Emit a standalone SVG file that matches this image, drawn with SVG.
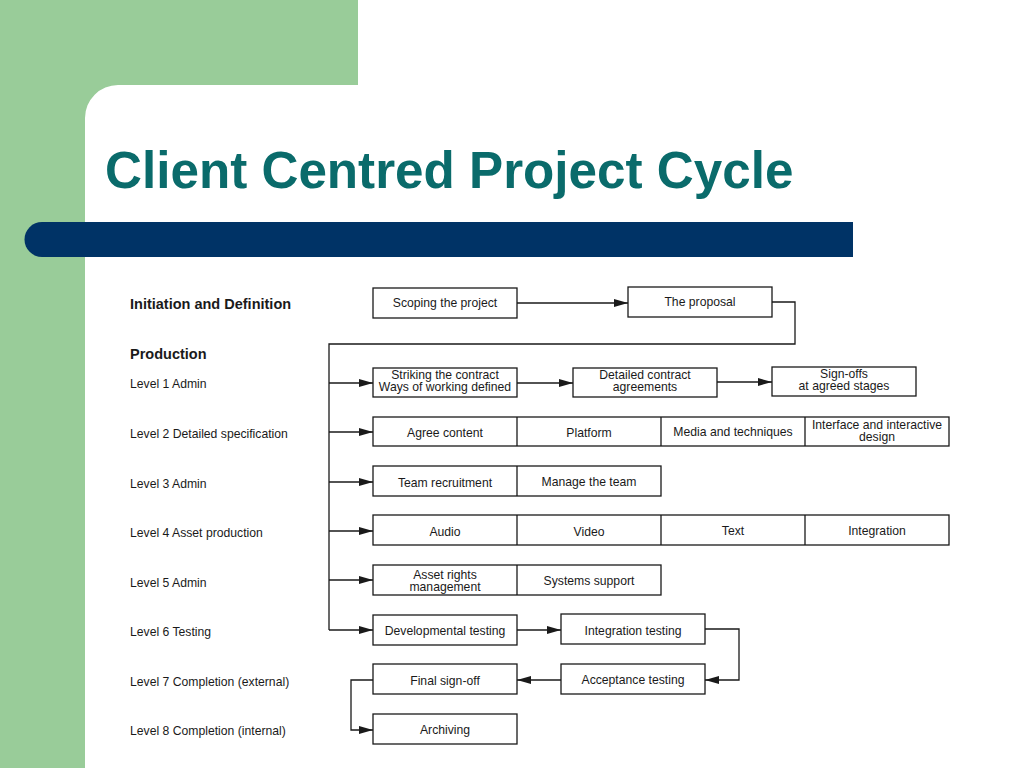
<svg xmlns="http://www.w3.org/2000/svg" width="1024" height="768" viewBox="0 0 1024 768">
<style>
.box{fill:#fff;stroke:#1a1a1a;stroke-width:1.3}
.ln{fill:none;stroke:#1a1a1a;stroke-width:1.3}
.t{font-family:"Liberation Sans",Arial,sans-serif;font-size:12.2px;fill:#1a1a1a;text-anchor:middle}
.lb{font-family:"Liberation Sans",Arial,sans-serif;font-size:12.2px;fill:#1a1a1a}
.hb{font-family:"Liberation Sans",Arial,sans-serif;font-size:14.5px;font-weight:bold;fill:#1a1a1a}
</style>
<defs>
<marker id="ah" viewBox="0 0 14 8" refX="14" refY="4" markerWidth="14" markerHeight="8" markerUnits="userSpaceOnUse" orient="auto">
<path d="M0,0 L14,4 L0,8 z" fill="#1a1a1a"/>
</marker>
</defs>
<rect width="1024" height="768" fill="#fff"/>
<g id="background">
<rect x="0" y="0" width="358" height="85" fill="#99cc99"/>
<rect x="0" y="0" width="85" height="768" fill="#99cc99"/>
<path d="M85,85 L118,85 A33,33 0 0 0 85,118 Z" fill="#99cc99"/>
<path d="M42,222 L853,222 L853,257 L42,257 A17.5,17.5 0 0 1 42,222 Z" fill="#003366"/>
</g>
<text x="105" y="188" font-family="Liberation Sans,Arial,sans-serif" font-size="51.2" font-weight="bold" fill="#0a6b6b">Client Centred Project Cycle</text>
<g id="labels">
<text class="hb" x="130" y="309">Initiation and Definition</text>
<text class="hb" x="130" y="359">Production</text>
<text class="lb" x="130" y="388">Level 1 Admin</text>
<text class="lb" x="130" y="438">Level 2 Detailed specification</text>
<text class="lb" x="130" y="488">Level 3 Admin</text>
<text class="lb" x="130" y="537">Level 4 Asset production</text>
<text class="lb" x="130" y="587">Level 5 Admin</text>
<text class="lb" x="130" y="636">Level 6 Testing</text>
<text class="lb" x="130" y="686">Level 7 Completion (external)</text>
<text class="lb" x="130" y="735">Level 8 Completion (internal)</text>
</g>
<g id="connectors">
<line class="ln" x1="517" y1="303" x2="628" y2="303" marker-end="url(#ah)"/>
<polyline class="ln" points="772,302 795,302 795,344 329,344 329,630"/>
<line class="ln" x1="329" y1="383" x2="373" y2="383" marker-end="url(#ah)"/>
<line class="ln" x1="329" y1="432" x2="373" y2="432" marker-end="url(#ah)"/>
<line class="ln" x1="329" y1="482" x2="373" y2="482" marker-end="url(#ah)"/>
<line class="ln" x1="329" y1="531" x2="373" y2="531" marker-end="url(#ah)"/>
<line class="ln" x1="329" y1="580" x2="373" y2="580" marker-end="url(#ah)"/>
<line class="ln" x1="329" y1="630" x2="373" y2="630" marker-end="url(#ah)"/>
<line class="ln" x1="517" y1="383" x2="573" y2="383" marker-end="url(#ah)"/>
<line class="ln" x1="717" y1="382" x2="772" y2="382" marker-end="url(#ah)"/>
<line class="ln" x1="517" y1="630" x2="561" y2="630" marker-end="url(#ah)"/>
<polyline class="ln" points="705,629 739,629 739,680 705,680" marker-end="url(#ah)"/>
<line class="ln" x1="561" y1="680" x2="517" y2="680" marker-end="url(#ah)"/>
<polyline class="ln" points="373,680 351,680 351,730 373,730" marker-end="url(#ah)"/>
</g>
<g id="scoping"><rect class="box" x="373" y="288" width="144" height="30"/><text class="t" x="445" y="307">Scoping the project</text></g>
<g id="proposal"><rect class="box" x="628" y="287" width="144" height="30"/><text class="t" x="700" y="306">The proposal</text></g>
<g id="striking"><rect class="box" x="373" y="368" width="144" height="29"/><text class="t" x="445" y="379">Striking the contract</text><text class="t" x="445" y="391">Ways of working defined</text></g>
<g id="detailed"><rect class="box" x="573" y="368" width="144" height="29"/><text class="t" x="645" y="379">Detailed contract</text><text class="t" x="645" y="391">agreements</text></g>
<g id="signoffs"><rect class="box" x="772" y="367" width="144" height="29"/><text class="t" x="844" y="378">Sign-offs</text><text class="t" x="844" y="390">at agreed stages</text></g>
<g id="level2">
<rect class="box" x="373" y="417" width="576" height="29"/>
<line class="ln" x1="517" y1="417" x2="517" y2="446"/><line class="ln" x1="661" y1="417" x2="661" y2="446"/><line class="ln" x1="805" y1="417" x2="805" y2="446"/>
<text class="t" x="445" y="437">Agree content</text>
<text class="t" x="589" y="437">Platform</text>
<text class="t" x="733" y="436">Media and techniques</text>
<text class="t" x="877" y="429">Interface and interactive</text>
<text class="t" x="877" y="441">design</text>
</g>
<g id="level3">
<rect class="box" x="373" y="466" width="288" height="30"/>
<line class="ln" x1="517" y1="466" x2="517" y2="496"/>
<text class="t" x="445" y="487">Team recruitment</text>
<text class="t" x="589" y="486">Manage the team</text>
</g>
<g id="level4">
<rect class="box" x="373" y="515" width="576" height="30"/>
<line class="ln" x1="517" y1="515" x2="517" y2="545"/><line class="ln" x1="661" y1="515" x2="661" y2="545"/><line class="ln" x1="805" y1="515" x2="805" y2="545"/>
<text class="t" x="445" y="536">Audio</text>
<text class="t" x="589" y="536">Video</text>
<text class="t" x="733" y="535">Text</text>
<text class="t" x="877" y="535">Integration</text>
</g>
<g id="level5">
<rect class="box" x="373" y="565" width="288" height="30"/>
<line class="ln" x1="517" y1="565" x2="517" y2="595"/>
<text class="t" x="445" y="579">Asset rights</text>
<text class="t" x="445" y="591">management</text>
<text class="t" x="589" y="585">Systems support</text>
</g>
<g id="devtest"><rect class="box" x="373" y="615" width="144" height="30"/><text class="t" x="445" y="635">Developmental testing</text></g>
<g id="inttest"><rect class="box" x="561" y="614" width="144" height="30"/><text class="t" x="633" y="635">Integration testing</text></g>
<g id="acctest"><rect class="box" x="561" y="664" width="144" height="30"/><text class="t" x="633" y="684">Acceptance testing</text></g>
<g id="finalsign"><rect class="box" x="373" y="664" width="144" height="30"/><text class="t" x="445" y="685">Final sign-off</text></g>
<g id="archiving"><rect class="box" x="373" y="714" width="144" height="30"/><text class="t" x="445" y="734">Archiving</text></g>
</svg>
